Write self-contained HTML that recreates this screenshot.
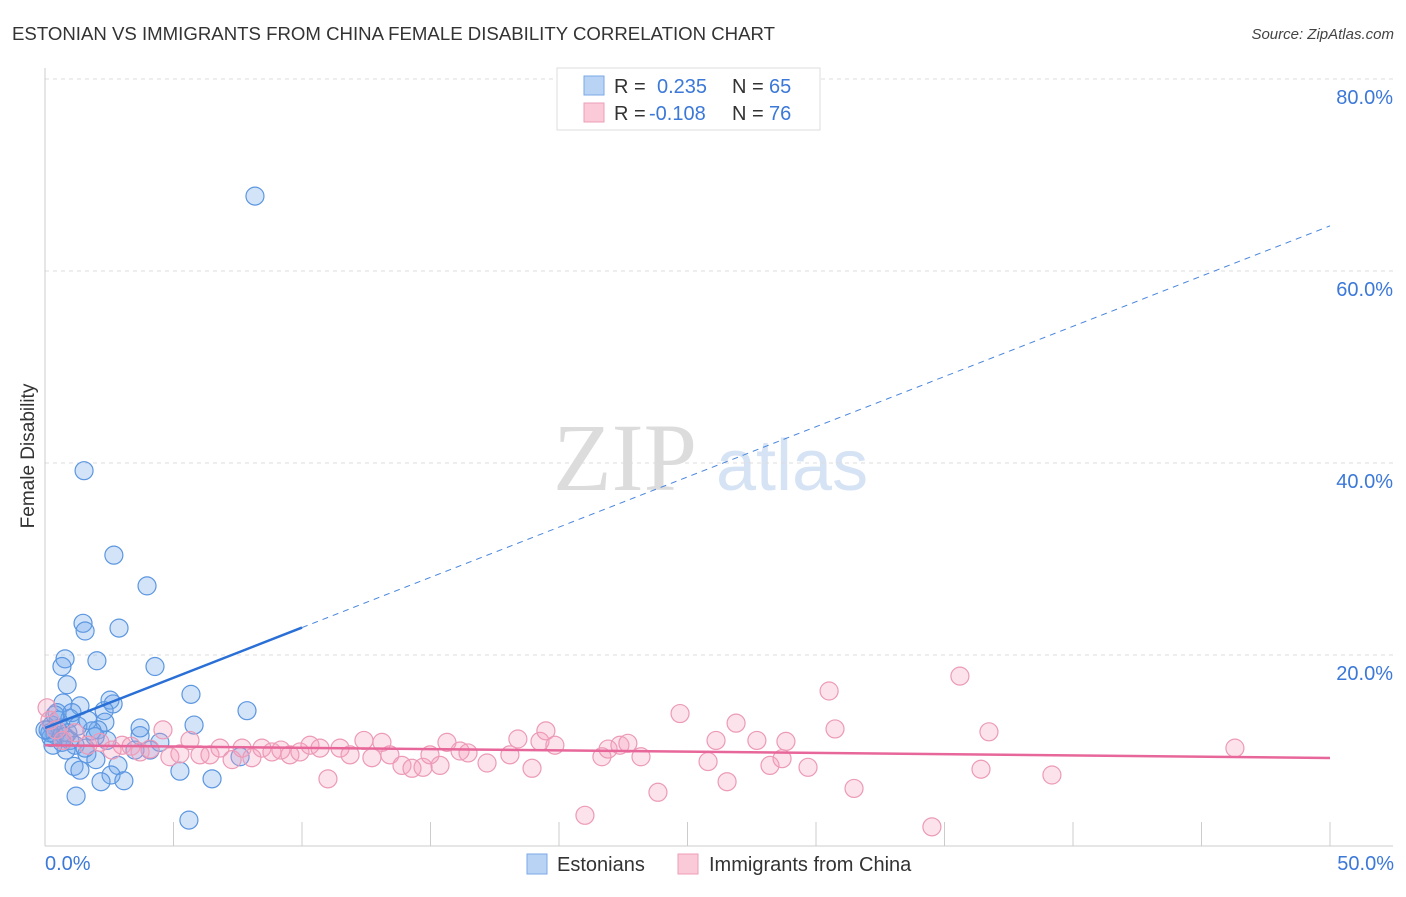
<!DOCTYPE html>
<html><head><meta charset="utf-8"><style>
body{margin:0;background:#fff;font-family:"Liberation Sans",sans-serif;}
</style></head><body>
<svg id="chart" width="1406" height="892" viewBox="0 0 1406 892" xmlns="http://www.w3.org/2000/svg" font-family="Liberation Sans, sans-serif">
<text x="12" y="40" font-size="18" fill="#333" textLength="763" lengthAdjust="spacingAndGlyphs">ESTONIAN VS IMMIGRANTS FROM CHINA FEMALE DISABILITY CORRELATION CHART</text>
<text x="1394" y="39" font-size="15" fill="#444" text-anchor="end" font-style="italic">Source: ZipAtlas.com</text>
<g>
<text x="553" y="490" font-size="96" fill="#dcdcdc" style="font-family:'Liberation Serif',serif">ZIP</text>
<text x="716" y="490" font-size="72" fill="#d5e3f5">atlas</text>
</g>
<g id="grid"></g>
<g id="axes"></g>
<g id="pts"></g>
<g id="trends"></g>
<text transform="translate(34,456) rotate(-90)" font-size="19" fill="#333" text-anchor="middle">Female Disability</text>
<text x="45" y="870" font-size="20" fill="#3b78d8">0.0%</text>
<text x="1394" y="870" font-size="20" fill="#3b78d8" text-anchor="end">50.0%</text>
<g>
<rect x="557" y="68" width="263" height="62" fill="#fff" stroke="#ddd"/>
<rect x="584" y="76" width="20" height="19" fill="#b9d3f5" stroke="#7aa8e6"/>
<rect x="584" y="103" width="20" height="19" fill="#fbcad8" stroke="#ee9db8"/>
<text x="614" y="93" font-size="20" fill="#333">R =</text>
<text x="657" y="93" font-size="20" fill="#3b78d8">0.235</text>
<text x="732" y="93" font-size="20" fill="#333">N =</text>
<text x="769" y="93" font-size="20" fill="#3b78d8">65</text>
<text x="614" y="120" font-size="20" fill="#333">R =</text>
<text x="649" y="120" font-size="20" fill="#3b78d8">-0.108</text>
<text x="732" y="120" font-size="20" fill="#333">N =</text>
<text x="769" y="120" font-size="20" fill="#3b78d8">76</text>
</g>
<g>
<rect x="527" y="854" width="20" height="20" fill="#b9d3f5" stroke="#7aa8e6"/>
<text x="557" y="871" font-size="20" fill="#333">Estonians</text>
<rect x="678" y="854" width="20" height="20" fill="#fbcad8" stroke="#ee9db8"/>
<text x="709" y="871" font-size="20" fill="#333">Immigrants from China</text>
</g>
</svg>
<script>
const yTicks=[20,40,60,80];
const yTickLabels=["20.0%","40.0%","60.0%","80.0%"];
const estX=[8.17,1.52,2.68,3.97,1.48,1.56,2.88,0.78,2.02,4.28,0.66,0.86,5.68,2.53,2.65,0.70,1.36,7.86,2.30,5.80,2.33,0.97,0.51,0.27,0.12,0.39,0.89,3.70,2.06,1.83,0.97,2.41,0.23,0.66,4.09,1.63,7.59,1.98,1.13,2.84,5.25,1.36,2.57,3.07,2.18,6.50,1.21,5.60,0.47,0.58,1.17,0.82,0.39,0.78,0.19,1.56,1.95,1.05,3.50,4.47,0,1.28,0.31,1.67,3.70];
const estY=[67.8,39.2,30.4,27.2,23.3,22.5,22.8,19.6,19.4,18.8,18.8,16.9,15.9,15.3,14.9,15.0,14.7,14.2,14.2,12.7,13.0,13.4,13.2,12.7,12.2,11.7,11.9,11.6,12.2,12.1,11.1,11.1,11.4,10.9,10.1,9.7,9.4,9.1,8.4,8.5,7.9,8.0,7.5,6.9,6.8,7.1,5.3,2.8,14.0,12.4,10.6,10.1,13.75,11.5,11.9,10.3,11.5,14.0,10.1,10.9,12.2,12.6,10.6,13.2,12.4];
const chnX=[0.08,0.19,0.43,0.70,1.17,1.67,2.14,2.61,3.00,3.35,3.70,4.09,4.59,4.86,5.25,5.64,6.03,6.42,6.81,7.28,7.67,8.05,8.44,8.83,9.18,9.53,9.92,10.31,10.70,11.01,11.48,11.87,12.41,12.72,13.11,13.42,13.89,14.28,14.71,14.98,15.37,15.64,16.15,16.46,17.20,18.09,18.40,18.95,19.26,19.49,19.84,21.01,21.67,21.91,22.37,22.68,23.19,23.85,24.71,25.80,26.11,26.54,26.89,27.70,28.21,28.68,28.83,29.69,30.51,30.74,31.48,34.51,35.60,36.42,36.73,39.18,46.30];
const chnY=[14.5,13.2,12.2,11.1,11.9,10.6,10.9,10.1,10.6,10.5,9.9,10.2,12.2,9.4,9.7,11.1,9.6,9.6,10.3,9.1,10.3,9.3,10.3,9.9,10.1,9.6,9.9,10.6,10.3,7.1,10.3,9.6,11.1,9.3,10.9,9.6,8.5,8.2,8.3,9.6,8.5,10.9,10.0,9.8,8.75,9.6,11.25,8.2,11.0,12.1,10.6,3.3,9.4,10.2,10.6,10.8,9.4,5.7,13.9,8.9,11.1,6.8,12.9,11.1,8.5,9.2,11.0,8.3,16.25,12.3,6.1,2.1,17.8,8.1,12.0,7.5,10.3];
const estTrend=[12.4,64.7];
const chnTrend=[10.6,9.27];
const sx=v=>45+v*1285/50;
const sy=v=>847-v*9.6;
const NS="http://www.w3.org/2000/svg";
function mk(tag,attrs,parent){const e=document.createElementNS(NS,tag);for(const k in attrs)e.setAttribute(k,attrs[k]);parent.appendChild(e);return e;}
const grid=document.getElementById('grid');
yTicks.forEach((t,i)=>{
  const l=mk('line',{x1:45,x2:1393,y1:sy(t),y2:sy(t),stroke:'#ddd','stroke-dasharray':'4,4'},grid);
  
  
  const tx=mk('text',{x:1393,y:sy(t)+25,'font-size':20,fill:'#3b78d8','text-anchor':'end'},grid);
  tx.textContent=yTickLabels[i];
  
  
});
const axes=document.getElementById('axes');
mk('line',{x1:45,x2:45,y1:68,y2:846,stroke:'#ccc'},axes);
mk('line',{x1:45,x2:1393,y1:846,y2:846,stroke:'#ccc'},axes);
for(let i=0;i<=10;i++){
  const t=mk('line',{x1:sx(i*5),x2:sx(i*5),y1:822,y2:846,stroke:'#ccc'},axes);
  
  
}
const pts=document.getElementById('pts');
estX.forEach((x,i)=>{
  const c=mk('circle',{cx:sx(x),cy:sy(estY[i]),r:9,fill:'rgba(110,165,235,0.3)',stroke:'#5b96e0','stroke-width':1.2},pts);
  
  
});
chnX.forEach((x,i)=>{
  const c=mk('circle',{cx:sx(x),cy:sy(chnY[i]),r:9,fill:'rgba(245,160,190,0.3)',stroke:'#ec9ab7','stroke-width':1.2},pts);
  
  
});
const tr=document.getElementById('trends');
const ey=x=>estTrend[0]+(estTrend[1]-estTrend[0])*x/50;
const a=mk('line',{x1:sx(0),y1:sy(ey(0)),x2:sx(10),y2:sy(ey(10)),stroke:'#2a6fd6','stroke-width':2.5},tr);


const b=mk('line',{x1:sx(10),y1:sy(ey(10)),x2:sx(50),y2:sy(ey(50)),stroke:'#4a86dd','stroke-width':1,'stroke-dasharray':'6,5'},tr);


const c=mk('line',{x1:sx(0),y1:sy(chnTrend[0]),x2:sx(50),y2:sy(chnTrend[1]),stroke:'#e8679a','stroke-width':2.5},tr);


</script>
</body></html>
